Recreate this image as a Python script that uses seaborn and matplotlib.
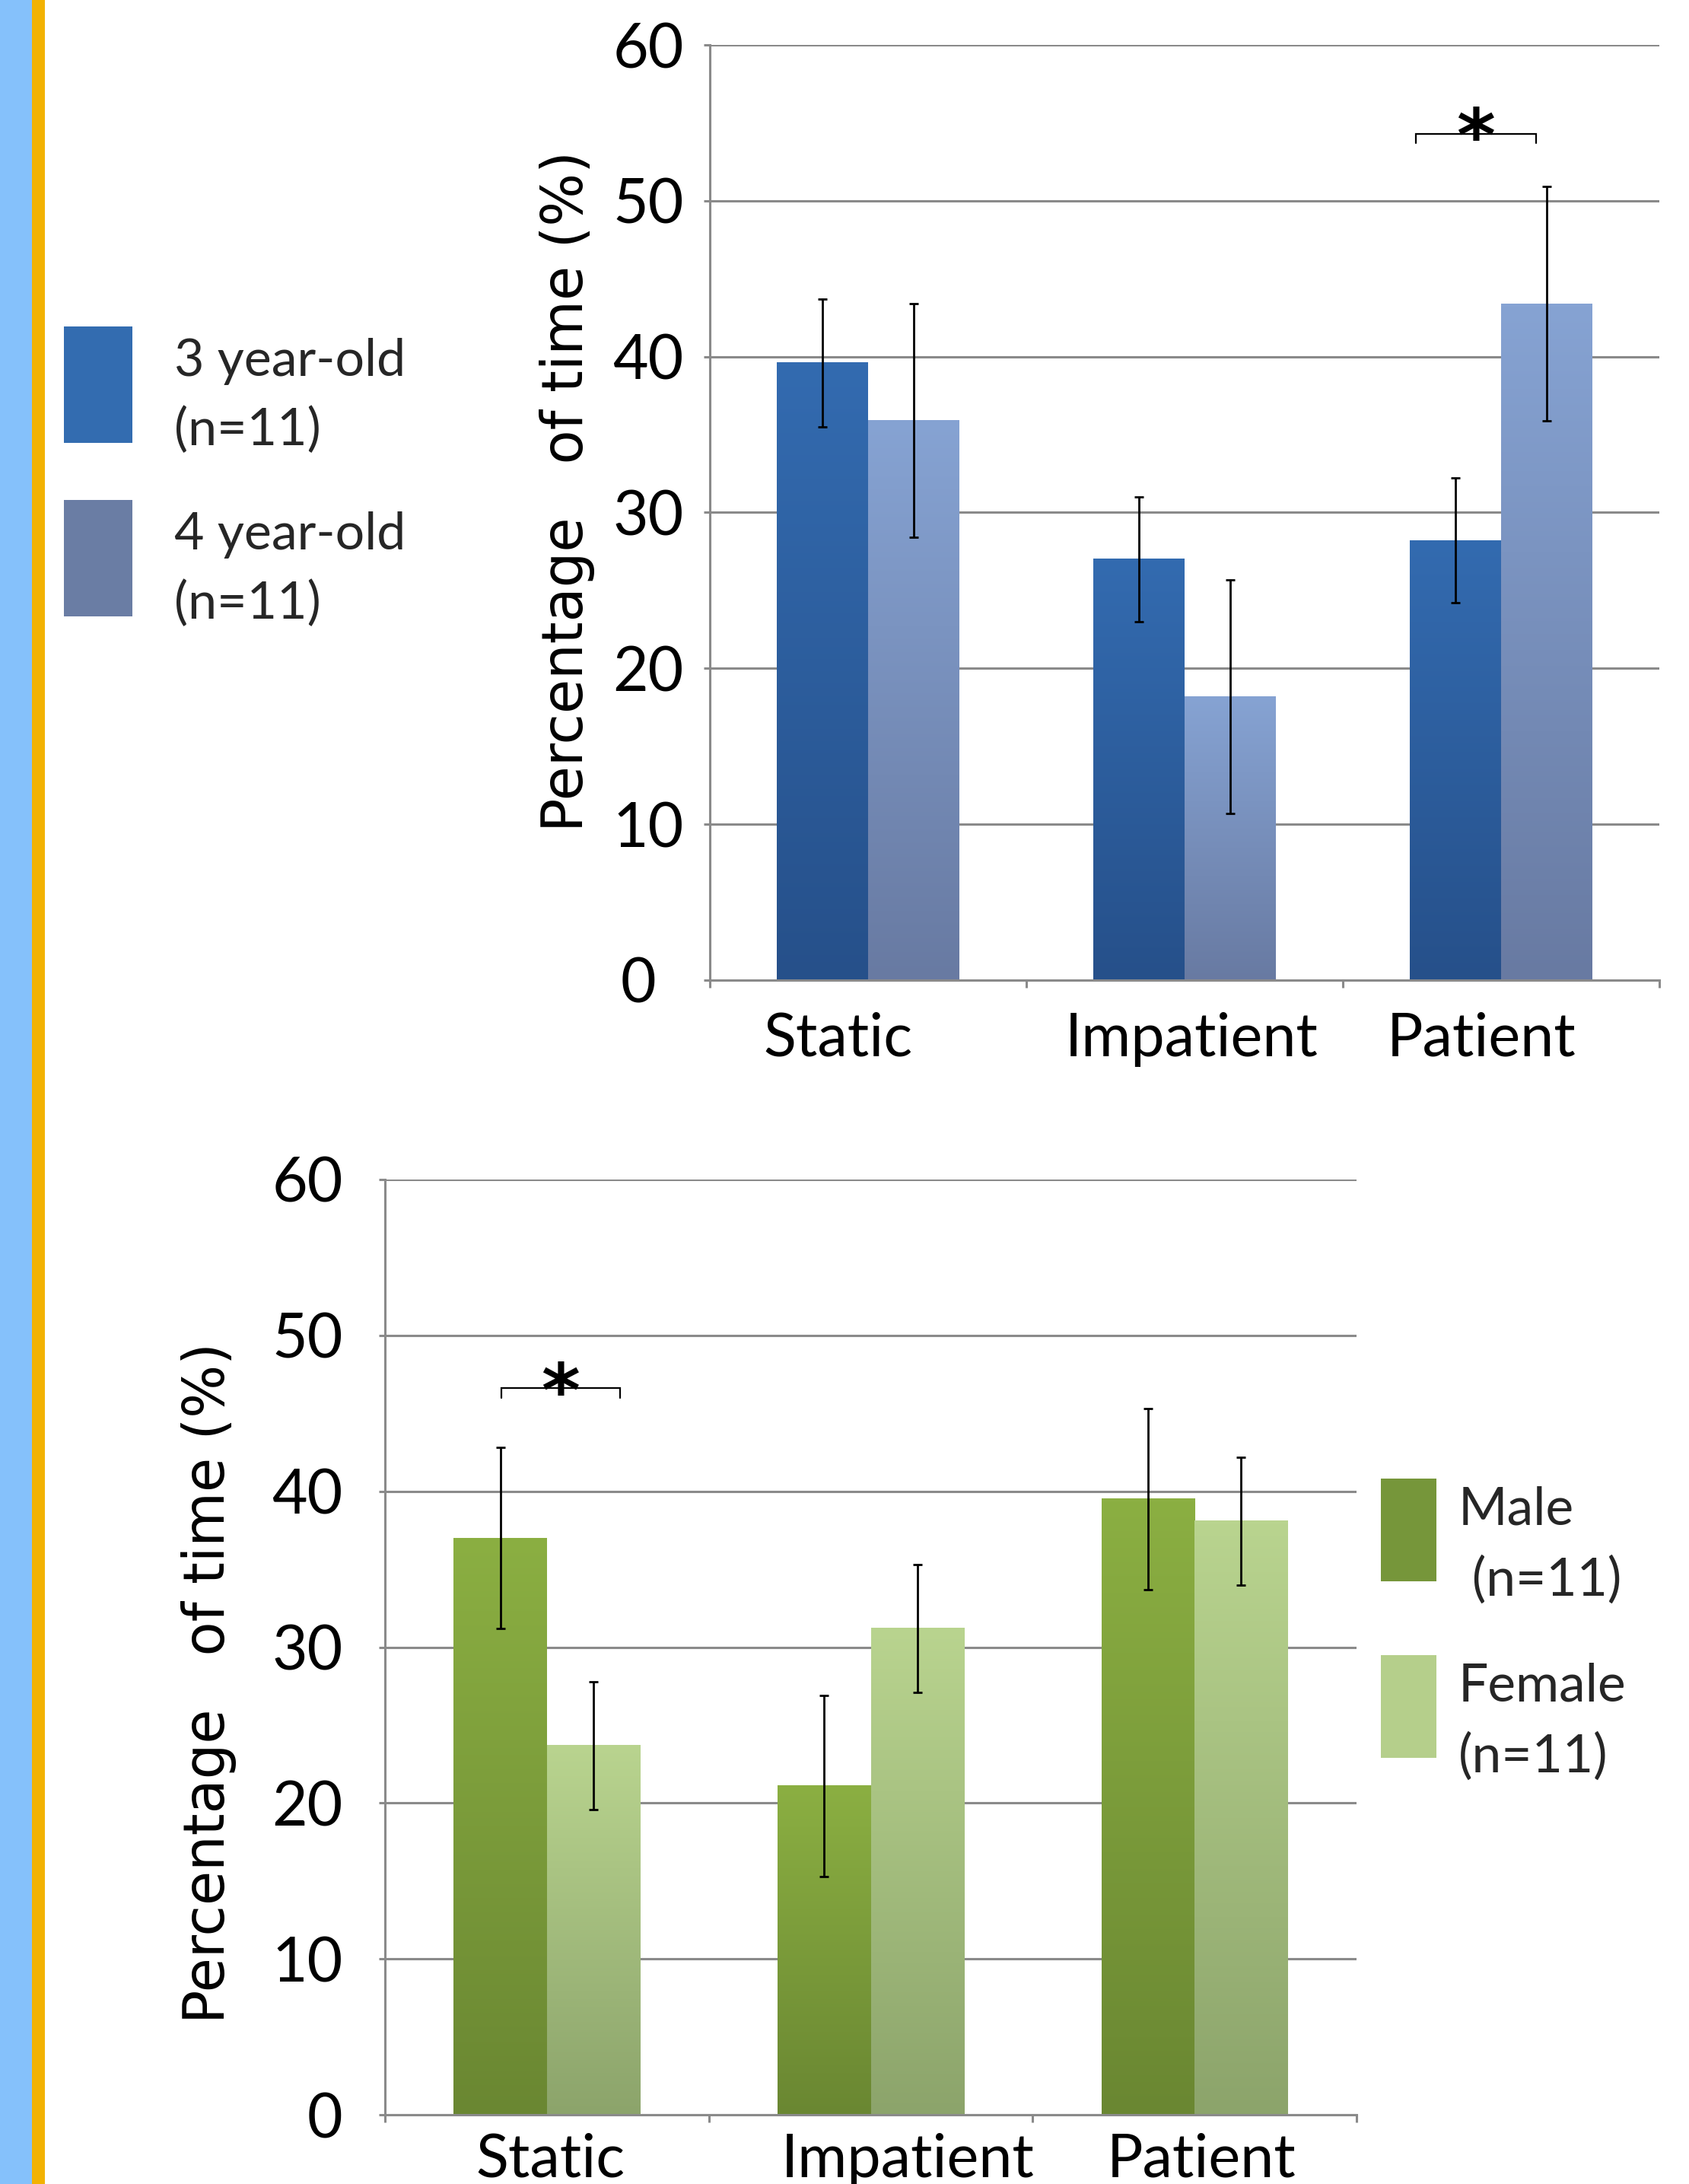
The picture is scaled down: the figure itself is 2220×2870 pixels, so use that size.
import numpy as np
import pandas as pd
import matplotlib
matplotlib.use("Agg")
import matplotlib.pyplot as plt
from matplotlib.colors import LinearSegmentedColormap
from matplotlib.patches import Rectangle
from matplotlib.container import BarContainer
import matplotlib.transforms as mtransforms
import seaborn as sns

# ---------------- data ----------------
conditions = ["Static", "Impatient", "Patient"]

age_groups = ["3 year-old\n(n=11)", "4 year-old\n(n=11)"]
age_3_mean = [39.6, 27.0, 28.2]
age_4_mean = [35.9, 18.2, 43.4]
age_3_err = [4.1, 4.0, 4.0]
age_4_err = [7.5, 7.5, 7.5]

sex_groups = ["Male\n (n=11)", "Female\n(n=11)"]
male_mean = [37.0, 21.1, 39.5]
female_mean = [23.7, 31.2, 38.1]
male_err = [5.8, 5.8, 5.8]
female_err = [4.1, 4.1, 4.1]

yticks = [0, 10, 20, 30, 40, 50, 60]
ylabel_text = "Percentage   of time (%)"
sig_label = "*"
# significance brackets: (category, left offset, right offset, height)
sig_age = ("Patient", -0.27, 0.11, 54.3)
sig_sex = ("Static", -0.14, 0.225, 46.6)

# ---------------- styles ----------------
W, H = 2220, 2870
GRID = "#8A8A8A"
age_legend_colors = ["#336CB0", "#6A7DA4"]
age_grad = [("#336BB0", "#26508A"), ("#86A3D3", "#687AA2")]
sex_legend_colors = ["#76963A", "#B5CF8B"]
sex_grad = [("#8BAF42", "#6A8732"), ("#B9D48F", "#8CA46B")]
# horizontal nudges (pixels) of category labels, as in the original layout
top_label_nudge = [-40, 9, -26]
bottom_label_nudge = [5, 49, 9]
top_zero_nudge = -36

sns.set_theme(style="white")
plt.rcParams["font.family"] = ["Lato", "DejaVu Sans"]

fig = plt.figure(figsize=(W / 100, H / 100), dpi=100)
fig.patch.set_facecolor("white")

# left decorative stripes
fig.add_artist(Rectangle((0, 0), 42 / W, 1, transform=fig.transFigure,
                         color="#85C1FB", lw=0, zorder=0))
fig.add_artist(Rectangle((42 / W, 0), 17 / W, 1, transform=fig.transFigure,
                         color="#F2B203", lw=0, zorder=0))

ax1 = fig.add_axes([933 / W, 1 - 1288 / H, 1248 / W, 1229 / H])
ax2 = fig.add_axes([506 / W, 1 - 2779 / H, 1277 / W, 1229 / H])


def make_df(groups, means):
    rows = []
    for g, vals in zip(groups, means):
        for c, v in zip(conditions, vals):
            rows.append({"condition": c, "group": g, "value": v})
    return pd.DataFrame(rows)


def shift(artist, dx, dy):
    artist.set_transform(artist.get_transform()
                         + mtransforms.Affine2D().translate(dx, dy))


def draw_panel(ax, groups, means, errs, legend_colors, grads, ytick_pad,
               xtick_pad, nudges):
    df = make_df(groups, means)
    sns.barplot(data=df, x="condition", y="value", hue="group",
                hue_order=groups, order=conditions,
                palette=legend_colors, saturation=1, width=0.575,
                errorbar=None, ax=ax, linewidth=0)
    bar_conts = [c for c in ax.containers if isinstance(c, BarContainer)]
    # gradient fill for each bar + error bars
    for gi, cont in enumerate(bar_conts):
        cmap = LinearSegmentedColormap.from_list(
            f"g{gi}", [grads[gi][1], grads[gi][0]])
        grad = np.linspace(0, 1, 256)[:, None]
        for bi, bar in enumerate(cont):
            x0 = bar.get_x()
            w = bar.get_width()
            h = bar.get_height()
            ax.imshow(grad, cmap=cmap, origin="lower", aspect="auto",
                      extent=[x0, x0 + w, 0, h], zorder=2, interpolation="bilinear")
            bar.set_facecolor("none")
            ax.errorbar(x0 + w / 2, h, yerr=errs[gi][bi], fmt="none",
                        ecolor="black", elinewidth=2.0, capsize=4.5,
                        capthick=2.0, zorder=4)
    ax.set_ylim(0, 60)
    ax.set_xlim(-0.5, len(conditions) - 0.5)
    ax.set_axisbelow(True)
    ax.yaxis.grid(True, color=GRID, linewidth=2.2)
    ax.xaxis.grid(False)
    for s in ["top", "right"]:
        ax.spines[s].set_visible(False)
    for s in ["left", "bottom"]:
        ax.spines[s].set_color(GRID)
        ax.spines[s].set_linewidth(2.2)
        ax.spines[s].set_zorder(3)
    ax.set_yticks(yticks)
    ax.set_yticklabels([str(t) for t in yticks])
    ax.tick_params(axis="y", which="major", left=True, length=5.8, width=2.2,
                   color=GRID, labelsize=58, pad=ytick_pad, labelcolor="black")
    ax.set_xticks(range(len(conditions)))
    ax.set_xticklabels(conditions)
    ax.set_xticks(np.arange(-0.5, len(conditions), 1.0), minor=True)
    ax.tick_params(axis="x", which="major", bottom=True, length=0,
                   labelsize=57, pad=xtick_pad, labelcolor="black")
    ax.tick_params(axis="x", which="minor", bottom=True, length=7, width=2.2,
                   color=GRID)
    for lab, dx in zip(ax.get_xticklabels(), nudges):
        shift(lab, dx, 0)
    ax.set_xlabel("")


draw_panel(ax1, age_groups, [age_3_mean, age_4_mean], [age_3_err, age_4_err],
           age_legend_colors, age_grad, ytick_pad=19, xtick_pad=30,
           nudges=top_label_nudge)
draw_panel(ax2, sex_groups, [male_mean, female_mean], [male_err, female_err],
           sex_legend_colors, sex_grad, ytick_pad=34, xtick_pad=17,
           nudges=bottom_label_nudge)
shift(ax1.get_yticklabels()[0], top_zero_nudge, 0)

# y labels
for ax, xc, yc in [(ax1, -0.121, 0.523), (ax2, -0.153, 0.462)]:
    ax.set_ylabel(ylabel_text, fontsize=53, family=["DejaVu Sans"], color="black")
    ax.yaxis.set_label_coords(xc, yc)

# legends
sns.move_legend(ax1, loc="upper left", bbox_to_anchor=(84 / W, 1 - 424 / H),
                bbox_transform=fig.transFigure, frameon=False, title=None,
                fontsize=49, handlelength=1.32, handleheight=3.08,
                handletextpad=0.81, labelspacing=1.03, borderpad=0,
                borderaxespad=0)
sns.move_legend(ax2, loc="upper left", bbox_to_anchor=(1815 / W, 1 - 1928 / H),
                bbox_transform=fig.transFigure, frameon=False, title=None,
                fontsize=50, handlelength=1.05, handleheight=2.62,
                handletextpad=0.42, labelspacing=1.09, borderpad=0,
                borderaxespad=0)
for ax, dy in ((ax1, -20), (ax2, -24)):
    for t in ax.get_legend().get_texts():
        t.set_linespacing(1.55)
        shift(t, 0, dy)


# significance brackets
def bracket(ax, spec):
    cat, lo, hi, y = spec
    xc = conditions.index(cat)
    x0, x1 = xc + lo, xc + hi
    ax.plot([x0, x0, x1, x1], [y - 0.6, y, y, y - 0.6], color="black",
            lw=1.6, zorder=5, clip_on=False, solid_joinstyle="miter")
    ax.annotate(sig_label, xy=((x0 + x1) / 2, y), xytext=(0, -26),
                textcoords="offset points", ha="center", va="baseline",
                fontsize=70, fontweight="bold", family=["DejaVu Sans"],
                color="black", annotation_clip=False)


bracket(ax1, sig_age)
bracket(ax2, sig_sex)

fig.savefig("out.png", dpi=100, facecolor="white")
